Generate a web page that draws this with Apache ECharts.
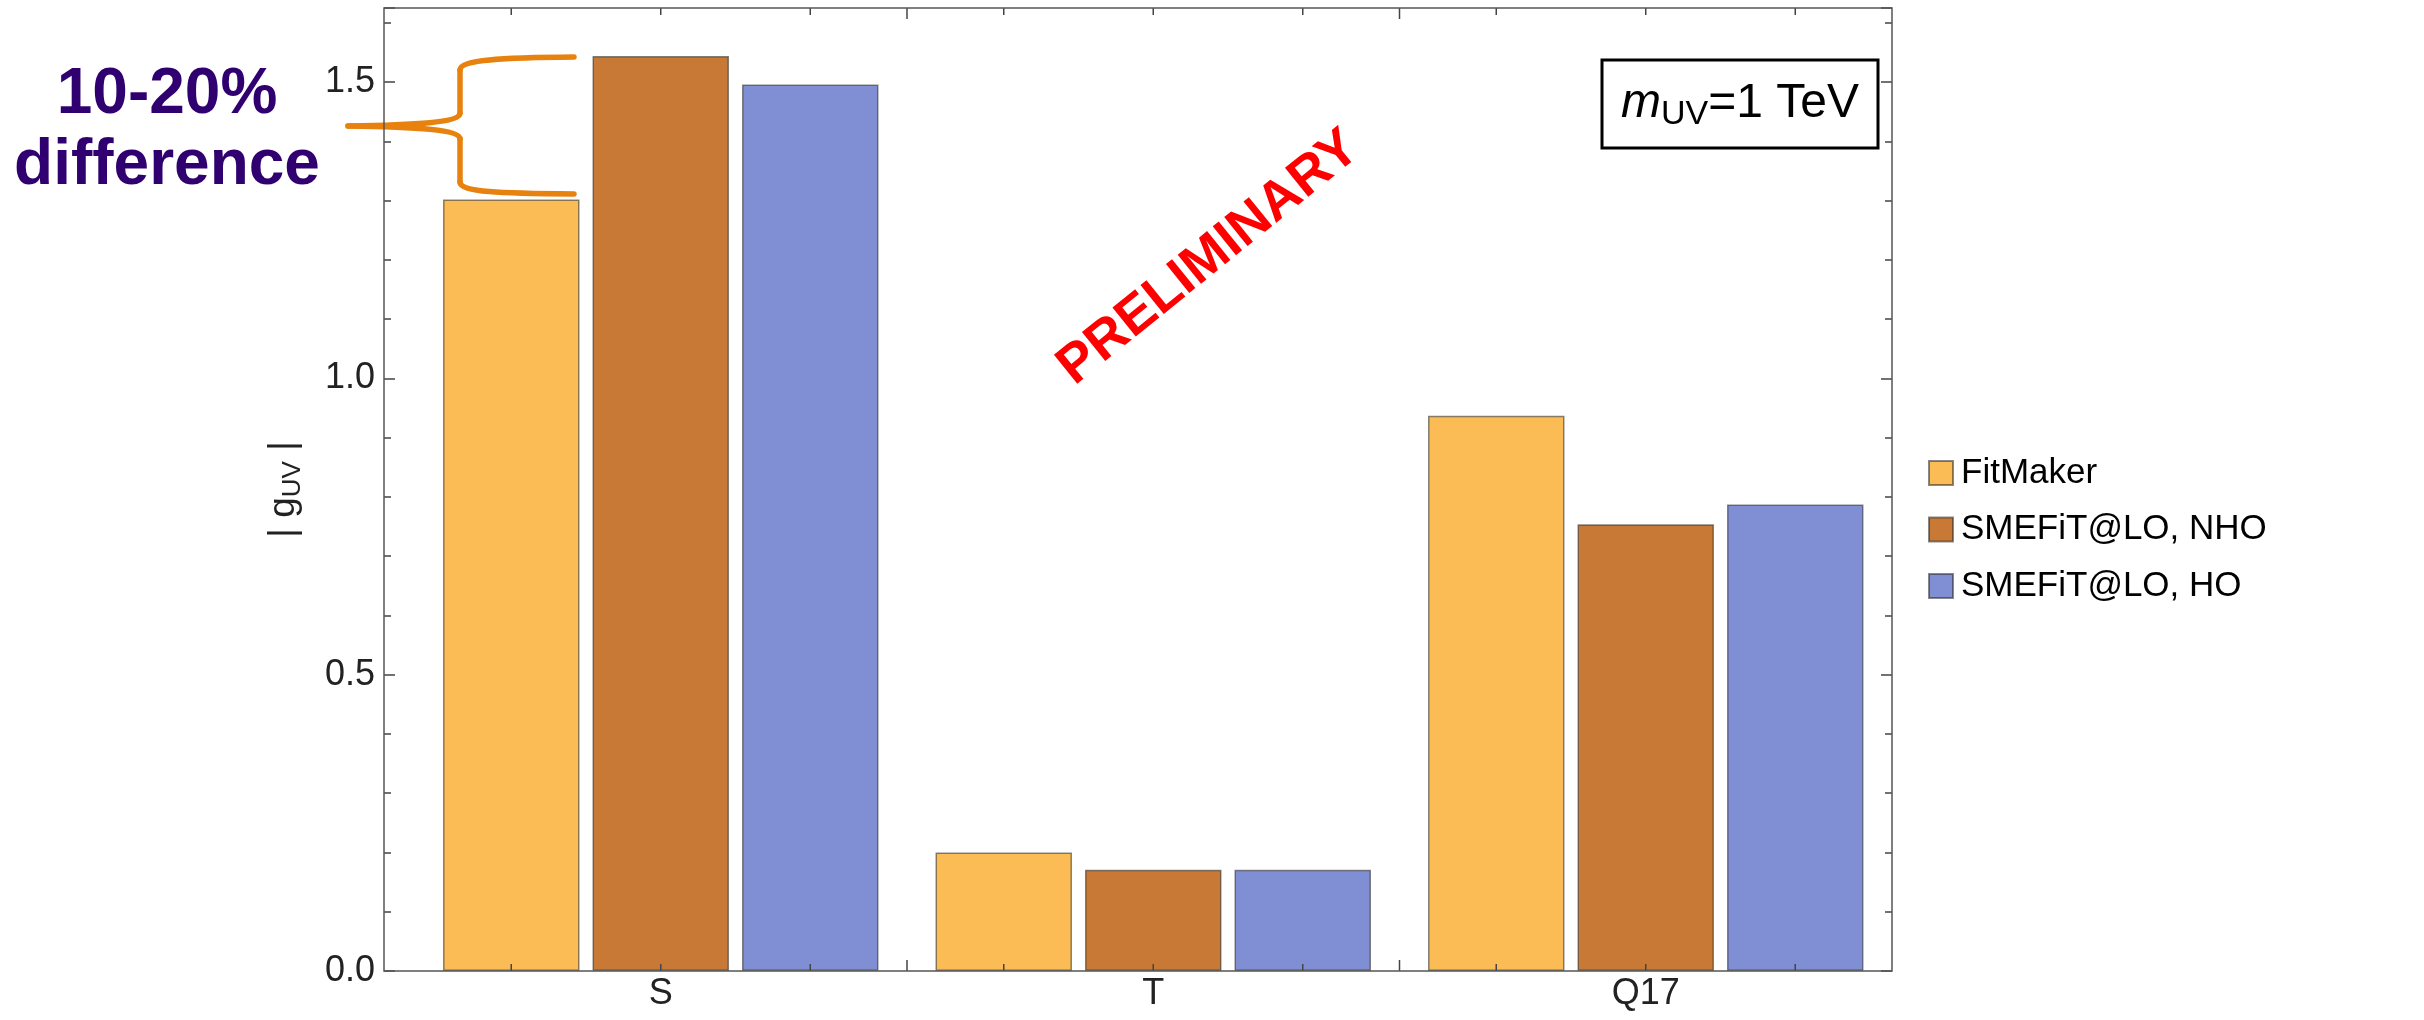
<!DOCTYPE html>
<html><head><meta charset="utf-8">
<script src="https://cdn.jsdelivr.net/npm/echarts@6/dist/echarts.min.js"></script>
<style>html,body{margin:0;padding:0;background:#fff}#c{width:2424px;height:1020px}</style>
</head><body><div id="c"></div>
<script>
// ---- data ----
const categories = ['S', 'T', 'Q17'];
const seriesNames = ['FitMaker', 'SMEFiT@LO, NHO', 'SMEFiT@LO, HO'];
const fitMaker = [1.302, 0.200, 0.937];
const smefitNHO = [1.544, 0.171, 0.754];
const smefitHO = [1.496, 0.171, 0.787];
const yMin = 0, yMax = 1.625, yMajor = 0.5, yMinor = 0.1;

// ---- layout / style ----
const FONT = '"Liberation Sans", Arial, Helvetica, sans-serif';
const FRAME = {left: 384, top: 8, right: 1892, bottom: 971};
const GRID_LEFT = 414.5;
const BAR_W = 136.5, BAR_GAP = 13;
const colors = ['#FBBC55', '#C87935', '#808FD4'];
const TICK = {color: '#444', width: 1.5};

const chart = echarts.init(document.getElementById('c'));

function yAx(pos, interval, len, withLabels) {
  const ax = {
    type: 'value', position: pos, min: yMin, max: yMax, interval: interval,
    offset: pos === 'left' ? GRID_LEFT - FRAME.left : 0,
    axisLine: {show: false}, splitLine: {show: false},
    axisTick: {show: true, inside: true, length: len, lineStyle: TICK},
    axisLabel: {show: false}
  };
  if (withLabels) {
    ax.axisLabel = {
      show: true, fontSize: 36, fontFamily: FONT, color: '#222', margin: 9,
      formatter: v => (Math.abs(v / yMajor - Math.round(v / yMajor)) < 1e-6 ? v.toFixed(1) : '')
    };
    ax.name = '{a|| }{b|g}{s|UV}{a| |}';
    ax.nameLocation = 'middle';
    ax.nameGap = 78;
    ax.nameTextStyle = {
      fontFamily: FONT, color: '#222',
      rich: {
        a: {fontSize: 37, lineHeight: 44, fontFamily: FONT, color: '#222'},
        b: {fontSize: 37, lineHeight: 44, fontFamily: FONT, color: '#222'},
        s: {fontSize: 26, lineHeight: 26, fontFamily: FONT, color: '#222', verticalAlign: 'bottom'}
      }
    };
  }
  return ax;
}

function xAx(pos, labels) {
  return {
    type: 'category', position: pos, data: categories, boundaryGap: true,
    axisLine: {show: false}, splitLine: {show: false}, axisTick: {show: false},
    axisLabel: labels ? {show: true, fontSize: 36, fontFamily: FONT, color: '#222', margin: 5} : {show: false}
  };
}

const barData = [fitMaker, smefitNHO, smefitHO];
const barSeries = barData.map((d, k) => ({
  type: 'bar', name: seriesNames[k], data: d, xAxisIndex: 0, yAxisIndex: 0,
  barWidth: BAR_W, barGap: (BAR_GAP / BAR_W * 100) + '%',
  itemStyle: {color: colors[k], borderColor: 'rgba(40,40,40,0.55)', borderWidth: 1.5},
  z: 2
}));

// frame ticks along x: short ticks at bar centres, longer ticks between groups
const tickSeries = {
  type: 'custom', xAxisIndex: 0, yAxisIndex: 0, silent: true, z: 5,
  data: categories.map((c, i) => [i]),
  renderItem(params, api) {
    const idx = api.value(0);
    const base = api.coord([idx, yMin]);
    const top = api.coord([idx, yMax]);
    const bandW = api.size([1, 0])[0];
    const step = BAR_W + BAR_GAP;
    const children = [];
    const st = {stroke: TICK.color, lineWidth: TICK.width};
    const add = (x, len) => {
      children.push({type: 'line', shape: {x1: x, y1: base[1], x2: x, y2: base[1] - len}, style: st});
      children.push({type: 'line', shape: {x1: x, y1: top[1], x2: x, y2: top[1] + len}, style: st});
    };
    for (let k = -1; k <= 1; k++) add(base[0] + k * step, 7);
    if (idx < categories.length - 1) add(base[0] + bandW / 2, 11);
    return {type: 'group', children};
  }
};

const BRACE = '#E8820E';
const braceStyle = {stroke: BRACE, lineWidth: 5.5, fill: null, lineCap: 'round'};

const option = {
  animation: false,
  backgroundColor: '#fff',
  grid: {left: GRID_LEFT, top: FRAME.top, right: 2424 - FRAME.right, bottom: 1020 - FRAME.bottom, containLabel: false},
  xAxis: [xAx('bottom', true), xAx('top', false)],
  yAxis: [yAx('left', yMajor, 11, true), yAx('left', yMinor, 7, false), yAx('right', yMajor, 11, false), yAx('right', yMinor, 7, false)],
  legend: {
    orient: 'vertical', left: 1928, top: 453, padding: 0, itemWidth: 24, itemHeight: 24, itemGap: 16.5,
    icon: 'rect', data: seriesNames, selectedMode: false,
    textStyle: {fontSize: 35, fontFamily: FONT, color: '#000', lineHeight: 40, padding: [0, 0, 0, 3]}
  },
  series: [...barSeries, tickSeries],
  graphic: [
    {type: 'rect', z: 100, silent: true,
     shape: {x: FRAME.left, y: FRAME.top, width: FRAME.right - FRAME.left, height: FRAME.bottom - FRAME.top},
     style: {fill: null, stroke: '#555', lineWidth: 1.5}},
    {type: 'rect', z: 100, silent: true,
     shape: {x: 1602, y: 60, width: 276, height: 88},
     style: {fill: '#fff', stroke: '#000', lineWidth: 3}},
    {type: 'text', z: 101, silent: true, x: 1740, y: 104,
     style: {
       text: '{m|m}{s|UV}{n|=1 TeV}', align: 'center', verticalAlign: 'middle', fill: '#000',
       rich: {
         m: {fontSize: 48, lineHeight: 56, fontStyle: 'italic', fontFamily: FONT, fill: '#000'},
         s: {fontSize: 34, lineHeight: 34, fontFamily: FONT, verticalAlign: 'bottom', fill: '#000'},
         n: {fontSize: 48, lineHeight: 56, fontFamily: FONT, fill: '#000'}
       }
     }},
    {type: 'text', z: 101, silent: true, x: 1209, y: 258, rotation: 39 * Math.PI / 180,
     style: {text: 'PRELIMINARY', fill: '#FF0000', font: 'bold 54px ' + FONT, align: 'center', verticalAlign: 'middle'}},
    {type: 'text', z: 101, silent: true, x: 167, y: 95,
     style: {text: '10-20%', fill: '#300070', font: 'bold 64px ' + FONT, align: 'center', verticalAlign: 'middle'}},
    {type: 'text', z: 101, silent: true, x: 167, y: 166,
     style: {text: 'difference', fill: '#300070', font: 'bold 64px ' + FONT, align: 'center', verticalAlign: 'middle'}},
    {type: 'group', z: 102, silent: true, children: [
      {type: 'bezierCurve', shape: {x1: 574, y1: 57, cpx1: 500, cpy1: 57.5, cpx2: 460, cpy2: 60, x2: 460, y2: 70}, style: braceStyle},
      {type: 'line', shape: {x1: 460, y1: 70, x2: 460, y2: 113}, style: braceStyle},
      {type: 'bezierCurve', shape: {x1: 460, y1: 113, cpx1: 460, cpy1: 122, cpx2: 420, cpy2: 125, x2: 348, y2: 126}, style: braceStyle},
      {type: 'bezierCurve', shape: {x1: 348, y1: 126, cpx1: 420, cpy1: 127, cpx2: 460, cpy2: 130, x2: 460, y2: 139}, style: braceStyle},
      {type: 'line', shape: {x1: 460, y1: 139, x2: 460, y2: 182}, style: braceStyle},
      {type: 'bezierCurve', shape: {x1: 460, y1: 182, cpx1: 460, cpy1: 192, cpx2: 500, cpy2: 193.5, x2: 574, y2: 194}, style: braceStyle}
    ]}
  ]
};
chart.setOption(option);
</script>
</body></html>
